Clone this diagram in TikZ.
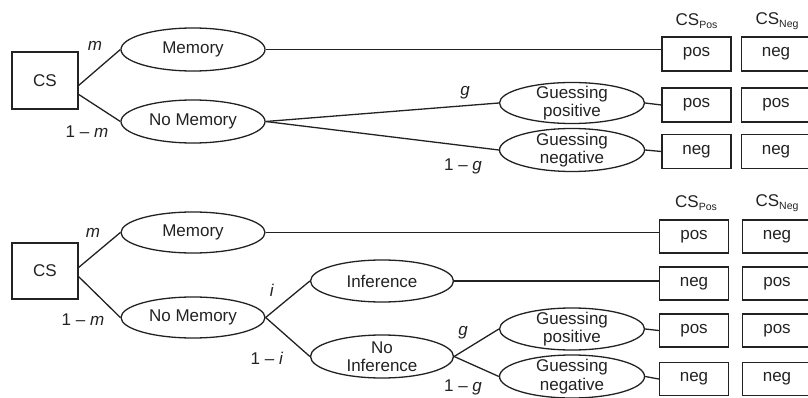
\documentclass[tikz,border=0pt]{standalone}
\usepackage{fontspec}
\setmainfont{Liberation Sans}
\usetikzlibrary{shapes.geometric}
\definecolor{ink}{HTML}{222222}
\newcommand{\sub}[1]{\raisebox{-0.4ex}{\fontsize{10.5}{12}\selectfont #1}}
\begin{document}
\begin{tikzpicture}[x=1pt,y=-1pt,
  every node/.style={text=ink,font=\fontsize{17}{18.5}\selectfont},
  line/.style={draw=ink,line width=1.3pt},
  csbox/.style={draw=ink,line width=1.3pt,minimum width=66pt,minimum height=57pt,inner sep=0pt},
  oval/.style={ellipse,draw=ink,line width=1.3pt,minimum width=144pt,minimum height=43pt,inner sep=0pt},
  outbox/.style={draw=ink,line width=1.3pt,minimum width=69pt,minimum height=34pt,inner sep=0pt},
  prob/.style={inner sep=0pt},
  inner/.style={align=center,inner sep=0pt,font=\fontsize{17}{18.5}\selectfont}]
\useasboundingbox (0,0) rectangle (808,398);

% ---------- top tree ----------
\node[csbox] (cs1) at (45,80.5) {CS};
\node[oval] (mem1) at (193,49.5) {Memory};
\node[oval] (nm1) at (193,121.5) {No Memory};
\node[oval,minimum width=145pt,minimum height=41pt,label={[inner]center:Guessing\\positive}] (gp1) at (572,103) {};
\node[oval,minimum width=145pt,minimum height=43pt,label={[inner]center:Guessing\\negative}] (gn1) at (572,150) {};

\node at (696.5,21) {CS\sub{Pos}};
\node at (777,21) {CS\sub{Neg}};
\node[outbox] (p11) at (696.5,54) {pos};
\node[outbox] (n11) at (776,54) {neg};
\node[outbox] (p12) at (696.5,105) {pos};
\node[outbox] (n12) at (776,105) {pos};
\node[outbox] (p13) at (696.5,151.5) {neg};
\node[outbox] (n13) at (776,151.5) {neg};

\coordinate (cs1a) at (78,86);
\coordinate (cs1b) at (78,94);
\draw[line] (cs1a) -- (mem1.west);
\draw[line] (cs1b) -- (nm1.west);
\draw[line] (mem1.east) -- (mem1.east -| p11.west);
\draw[line] (nm1.east) -- (gp1.west);
\draw[line] (nm1.east) -- (gn1.west);
\draw[line] (gp1.east) -- (p12.west);
\draw[line] (gn1.east) -- (p13.west);

\node[prob] at (95,46) {\textit{m}};
\node[prob] at (87,132) {1 – \textit{m}};
\node[prob] at (465,93) {\textit{g}};
\node[prob] at (463,166) {1 – \textit{g}};

% ---------- bottom tree ----------
\node[csbox,minimum height=56pt] (cs2) at (45,271) {CS};
\node[oval,minimum height=41pt] (mem2) at (193,232.5) {Memory};
\node[oval,minimum height=41pt] (nm2) at (193,317.5) {No Memory};
\node[oval,minimum width=143pt,minimum height=42pt] (inf2) at (382,281) {Inference};
\node[oval,minimum width=143pt,minimum height=43pt,label={[inner]center:No\\Inference}] (ninf2) at (382,356.5) {};
\node[oval,minimum width=145pt,minimum height=42pt,label={[inner]center:Guessing\\positive}] (gp2) at (572,329) {};
\node[oval,minimum width=145pt,minimum height=43pt,label={[inner]center:Guessing\\negative}] (gn2) at (572,376.5) {};

\node at (696,203) {CS\sub{Pos}};
\node at (777,203) {CS\sub{Neg}};
\node[outbox,minimum height=33pt] (p21) at (694,236.5) {pos};
\node[outbox,minimum height=33pt] (n21) at (777,236.5) {neg};
\node[outbox,minimum height=33pt] (p22) at (694,283.5) {neg};
\node[outbox,minimum height=33pt] (n22) at (777,283.5) {pos};
\node[outbox,minimum height=33pt] (p23) at (694,330.5) {pos};
\node[outbox,minimum height=33pt] (n23) at (777,330.5) {pos};
\node[outbox,minimum height=33pt] (p24) at (694,379) {neg};
\node[outbox,minimum height=33pt] (n24) at (777,379) {neg};

\coordinate (cs2a) at (78,268);
\coordinate (cs2b) at (78,276);
\draw[line] (cs2a) -- (mem2.west);
\draw[line] (cs2b) -- (nm2.west);
\draw[line] (mem2.east) -- (mem2.east -| p21.west);
\draw[line] (nm2.east) -- (inf2.west);
\draw[line] (nm2.east) -- (ninf2.west);
\draw[line] (inf2.east) -- (inf2.east -| p22.west);
\draw[line] (ninf2.east) -- (gp2.west);
\draw[line] (ninf2.east) -- (gn2.west);
\draw[line] (gp2.east) -- (p23.west);
\draw[line] (gn2.east) -- (p24.west);

\node[prob] at (93,233) {\textit{m}};
\node[prob] at (83,320) {1 – \textit{m}};
\node[prob] at (272,290) {\textit{i}};
\node[prob] at (267,358) {1 – \textit{i}};
\node[prob] at (463,333) {\textit{g}};
\node[prob] at (463,387) {1 – \textit{g}};
\end{tikzpicture}
\end{document}
